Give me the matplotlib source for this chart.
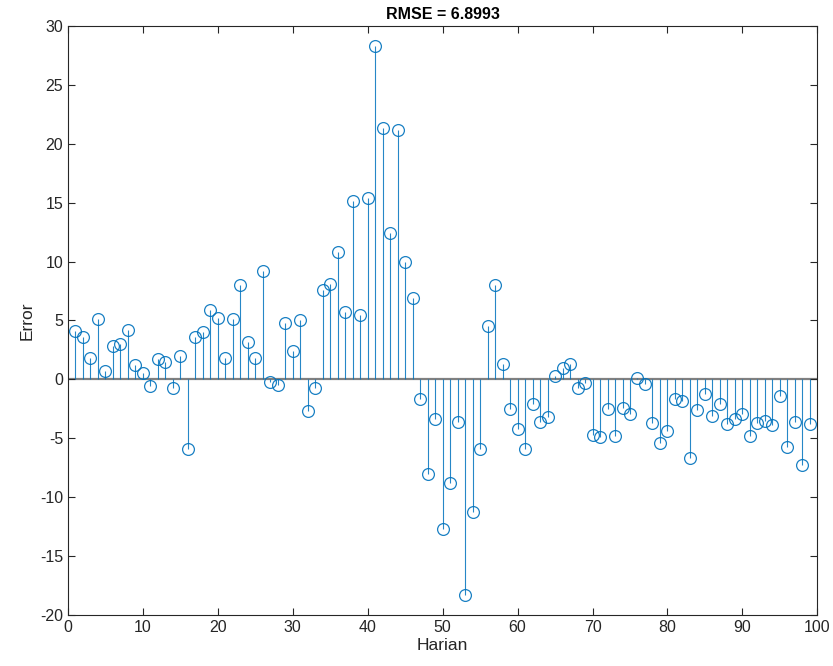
import matplotlib; matplotlib.use("Agg")
import matplotlib.pyplot as plt
import numpy as np

# error per day
errors = [4.1, 3.6, 1.8, 5.1, 0.7, 2.8, 3.0, 4.2, 1.2, 0.5,
          -0.6, 1.7, 1.5, -0.7, 2.0, -5.9, 3.6, 4.0, 5.9, 5.2,
          1.8, 5.1, 8.0, 3.2, 1.8, 9.2, -0.2, -0.5, 4.8, 2.4,
          5.0, -2.7, -0.7, 7.6, 8.1, 10.8, 5.7, 15.1, 5.5, 15.4,
          28.3, 21.3, 12.4, 21.2, 10.0, 6.9, -1.7, -8.0, -3.4, -12.7,
          -8.8, -3.6, -18.3, -11.3, -5.9, 4.5, 8.0, 1.3, -2.5, -4.2,
          -5.9, -2.1, -3.6, -3.2, 0.3, 1.0, 1.3, -0.7, -0.3, -4.7,
          -4.9, -2.5, -4.8, -2.4, -2.9, 0.1, -0.4, -3.7, -5.4, -4.4,
          -1.7, -1.8, -6.7, -2.6, -1.2, -3.1, -2.1, -3.8, -3.4, -2.9,
          -4.8, -3.7, -3.5, -3.9, -1.4, -5.7, -3.6, -7.3, -3.8]
days = np.arange(1, len(errors) + 1)
rmse = 6.8993

blue = "#0072BD"
plt.rcParams["font.family"] = ["Liberation Sans", "DejaVu Sans"]
plt.rcParams["axes.unicode_minus"] = False

fig = plt.figure(figsize=(8.33, 6.66), dpi=100)
ax = fig.add_axes([0.0816, 0.0766, 0.8996, 0.8844])

ax.axhline(0, color="#808080", lw=1.6, zorder=1)
ax.vlines(days, 0, errors, color=blue, lw=0.8, alpha=0.85, zorder=2)
ax.plot(days, errors, "o", mfc="none", mec=blue, ms=8.5, mew=0.9, alpha=0.9, zorder=3)

ax.set_xlim(0, 100)
ax.set_ylim(-20, 30)
ax.set_xticks(np.arange(0, 101, 10))
ax.set_yticks(np.arange(-20, 31, 5))
ax.tick_params(direction="in", top=True, right=True, labelsize=11.5,
               colors="#262626", length=5, width=0.8)
for s in ax.spines.values():
    s.set_color("#262626"); s.set_linewidth(0.8)
ax.set_xlabel("Harian", fontsize=12.5, color="#262626", labelpad=2)
ax.set_ylabel("Error", fontsize=12.5, color="#262626", labelpad=4)
ax.set_title(f"RMSE = {rmse:.4f}", fontsize=11.5, fontweight="bold", pad=5)

fig.savefig("out.png", dpi=100)
